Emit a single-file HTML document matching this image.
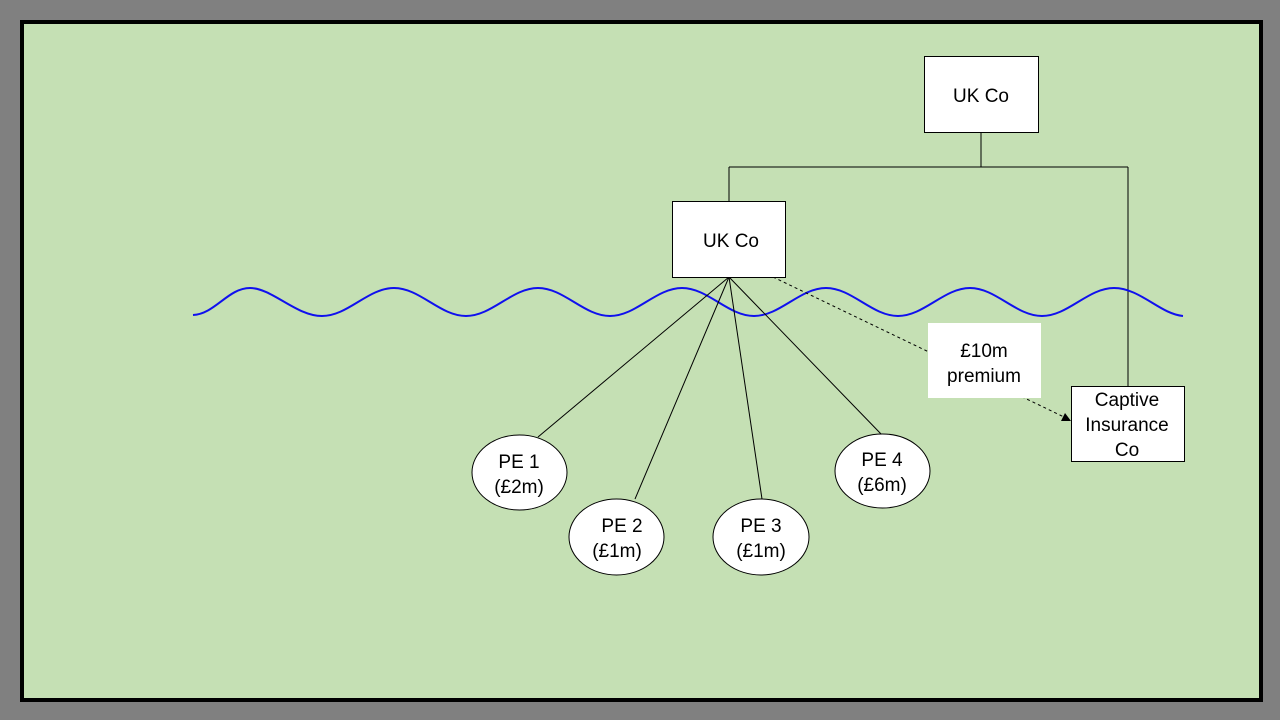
<!DOCTYPE html>
<html><head><style>
html,body{margin:0;padding:0;background:#808080;}
svg{display:block;}
text{font-family:"Liberation Sans",Arial,sans-serif;font-size:19px;fill:#000;}
</style></head><body>
<svg width="1280" height="720" viewBox="0 0 1280 720" xmlns="http://www.w3.org/2000/svg">
<rect x="0" y="0" width="1280" height="720" fill="#808080"/>
<rect x="22" y="22" width="1239" height="678" fill="#c5e0b4" stroke="#000" stroke-width="4"/>
<path d="M981 132 V167 M729 167 H1128 M729 167 V201 M1128 167 V386" stroke="#000" stroke-width="1" fill="none"/>
<path d="M193 315 C215 314 228 288 250 288 S296 316 322 316 S368 288 394 288 S440 316 466 316 S512 288 538 288 S584 316 610 316 S656 288 682 288 S728 316 754 316 S800 288 826 288 S872 316 898 316 S944 288 970 288 S1016 316 1042 316 S1088 288 1114 288 S1160 314 1183 316" stroke="#1010ee" stroke-width="2" fill="none"/>
<g stroke="#000" stroke-width="1">
<line x1="729" y1="277" x2="538" y2="437"/>
<line x1="729" y1="277" x2="635" y2="499"/>
<line x1="729" y1="277" x2="762" y2="499"/>
<line x1="729" y1="277" x2="882" y2="435"/>
</g>
<rect x="1071.5" y="386.5" width="113" height="75" fill="#fff" stroke="#000"/>
<line x1="773" y1="277" x2="1064" y2="417" stroke="#000" stroke-width="1" stroke-dasharray="3,3"/>
<polygon points="1071,421 1061,421 1065,413" fill="#000"/>
<rect x="924.5" y="56.5" width="114" height="76" fill="#fff" stroke="#000"/>
<text x="981" y="102" text-anchor="middle">UK Co</text>
<rect x="672.5" y="201.5" width="113" height="76" fill="#fff" stroke="#000"/>
<text x="731" y="247" text-anchor="middle">UK Co</text>
<rect x="928" y="323" width="113" height="75" fill="#fff"/>
<text x="984" y="357" text-anchor="middle">£10m</text>
<text x="984" y="382" text-anchor="middle">premium</text>
<text x="1127" y="406" text-anchor="middle">Captive</text>
<text x="1127" y="431" text-anchor="middle">Insurance</text>
<text x="1127" y="456" text-anchor="middle">Co</text>
<g fill="#fff" stroke="#000">
<ellipse cx="519.5" cy="472.5" rx="47.5" ry="37.5"/>
<ellipse cx="616.5" cy="537" rx="47.5" ry="38"/>
<ellipse cx="761" cy="537" rx="48" ry="38"/>
<ellipse cx="882.5" cy="471" rx="47.5" ry="37"/>
</g>
<text x="519" y="468" text-anchor="middle">PE 1</text>
<text x="519" y="493" text-anchor="middle">(£2m)</text>
<text x="622" y="532" text-anchor="middle">PE 2</text>
<text x="617" y="557" text-anchor="middle">(£1m)</text>
<text x="761" y="532" text-anchor="middle">PE 3</text>
<text x="761" y="557" text-anchor="middle">(£1m)</text>
<text x="882" y="466" text-anchor="middle">PE 4</text>
<text x="882" y="491" text-anchor="middle">(£6m)</text>
</svg>
</body></html>
